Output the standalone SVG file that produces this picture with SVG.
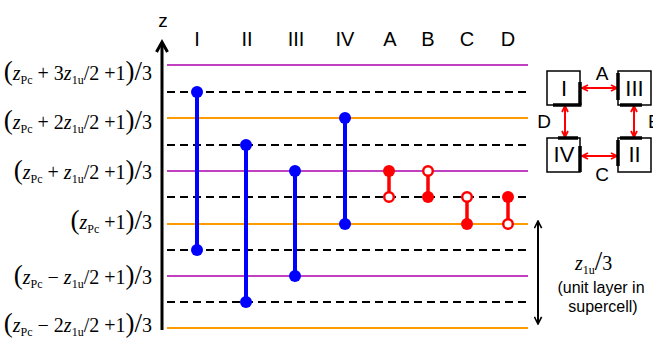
<svg xmlns="http://www.w3.org/2000/svg" width="653" height="343" viewBox="0 0 653 343">
  <style>
    .sans { font-family: "Liberation Sans", Arial, sans-serif; fill: #000; }
    .col { font-size: 20px; text-anchor: middle; }
    .eq { font-family: "Liberation Serif", "Times New Roman", serif; font-size: 20px; fill: #000; text-anchor: end; }
    .eqs { font-family: "Liberation Serif", "Times New Roman", serif; font-size: 20px; fill: #000; text-anchor: start; }
    .v { font-style: italic; }
    .sub { font-size: 12px; }
    .br { font-size: 27px; }
    .purple { stroke: #C040C0; stroke-width: 2; }
    .orange { stroke: #FF9A00; stroke-width: 2; }
    .dash { stroke: #000; stroke-width: 2; stroke-dasharray: 8 5; }
    .blue { stroke: #0000FF; stroke-width: 4; }
    .bdot { fill: #0000FF; }
    .red { stroke: #FF0000; stroke-width: 3.5; }
    .rfill { fill: #FF0000; }
    .ropen { fill: #FFFFFF; stroke: #FF0000; stroke-width: 2.5; }
    .box { fill: #FFFFFF; stroke: #000; stroke-width: 1.5; }
    .edge { stroke: #000; stroke-width: 3.5; }
    .link { stroke: #FF0000; stroke-width: 2; fill: none; }
    .boxlabel { font-size: 22px; text-anchor: middle; }
    .plabel { font-size: 19px; text-anchor: middle; }
  </style>
  <defs>
    <marker id="redHead" viewBox="0 0 8 8" refX="7" refY="4" markerWidth="8" markerHeight="8" markerUnits="userSpaceOnUse" orient="auto-start-reverse">
      <path d="M1,1 L7,4 L1,7" fill="none" stroke="#FF0000" stroke-width="1.8"/>
    </marker>
    <marker id="blackHead" viewBox="0 0 10 10" refX="9" refY="5" markerWidth="9" markerHeight="9" markerUnits="userSpaceOnUse" orient="auto-start-reverse">
      <path d="M1,1 L9,5 L1,9" fill="none" stroke="#000" stroke-width="1.8"/>
    </marker>
  </defs>

  <!-- level lines -->
  <g id="levels">
    <line class="purple" x1="167" y1="65" x2="528" y2="65"/>
    <line class="dash" x1="167" y1="92" x2="528" y2="92"/>
    <line class="orange" x1="167" y1="118" x2="528" y2="118"/>
    <line class="dash" x1="167" y1="145" x2="528" y2="145"/>
    <line class="purple" x1="167" y1="171" x2="528" y2="171"/>
    <line class="dash" x1="167" y1="197" x2="528" y2="197"/>
    <line class="orange" x1="167" y1="224" x2="528" y2="224"/>
    <line class="dash" x1="167" y1="250" x2="528" y2="250"/>
    <line class="purple" x1="167" y1="276" x2="528" y2="276"/>
    <line class="dash" x1="167" y1="302" x2="528" y2="302"/>
    <line class="orange" x1="167" y1="328" x2="528" y2="328"/>
  </g>

  <!-- z axis -->
  <g id="axis">
    <line x1="162" y1="330" x2="162" y2="43" stroke="#000" stroke-width="3"/>
    <path d="M156.5,52 L162,42 L167.5,52" fill="none" stroke="#000" stroke-width="3"/>
    <text class="sans" x="163" y="27" font-size="19" text-anchor="middle">z</text>
  </g>

  <!-- level equations -->
  <g id="level-labels">
    <text class="eq" x="152" y="80"><tspan class="br">(</tspan><tspan class="v">z</tspan><tspan class="sub" dy="4">Pc</tspan><tspan dy="-4"> + 3</tspan><tspan class="v">z</tspan><tspan class="sub" dy="4">1u</tspan><tspan dy="-4">/2 +1</tspan><tspan class="br">)/</tspan>3</text>
    <text class="eq" x="152" y="129"><tspan class="br">(</tspan><tspan class="v">z</tspan><tspan class="sub" dy="4">Pc</tspan><tspan dy="-4"> + 2</tspan><tspan class="v">z</tspan><tspan class="sub" dy="4">1u</tspan><tspan dy="-4">/2 +1</tspan><tspan class="br">)/</tspan>3</text>
    <text class="eq" x="152" y="179"><tspan class="br">(</tspan><tspan class="v">z</tspan><tspan class="sub" dy="4">Pc</tspan><tspan dy="-4"> + </tspan><tspan class="v">z</tspan><tspan class="sub" dy="4">1u</tspan><tspan dy="-4">/2 +1</tspan><tspan class="br">)/</tspan>3</text>
    <text class="eq" x="152" y="229"><tspan class="br">(</tspan><tspan class="v">z</tspan><tspan class="sub" dy="4">Pc</tspan><tspan dy="-4"> +1</tspan><tspan class="br">)/</tspan>3</text>
    <text class="eq" x="152" y="284"><tspan class="br">(</tspan><tspan class="v">z</tspan><tspan class="sub" dy="4">Pc</tspan><tspan dy="-4"> − </tspan><tspan class="v">z</tspan><tspan class="sub" dy="4">1u</tspan><tspan dy="-4">/2 +1</tspan><tspan class="br">)/</tspan>3</text>
    <text class="eq" x="152" y="332"><tspan class="br">(</tspan><tspan class="v">z</tspan><tspan class="sub" dy="4">Pc</tspan><tspan dy="-4"> − 2</tspan><tspan class="v">z</tspan><tspan class="sub" dy="4">1u</tspan><tspan dy="-4">/2 +1</tspan><tspan class="br">)/</tspan>3</text>
  </g>

  <!-- column headings -->
  <g id="columns" class="sans col">
    <text x="197" y="46">I</text>
    <text x="247" y="46">II</text>
    <text x="296" y="46">III</text>
    <text x="345" y="46">IV</text>
    <text x="390" y="46">A</text>
    <text x="428" y="46">B</text>
    <text x="467" y="46">C</text>
    <text x="508" y="46">D</text>
  </g>

  <!-- blue spans -->
  <g id="span-I">
    <line class="blue" x1="197" y1="92" x2="197" y2="250"/>
    <circle class="bdot" cx="197" cy="92" r="6"/>
    <circle class="bdot" cx="197" cy="250" r="6"/>
  </g>
  <g id="span-II">
    <line class="blue" x1="246" y1="145" x2="246" y2="302"/>
    <circle class="bdot" cx="246" cy="145" r="6"/>
    <circle class="bdot" cx="246" cy="302" r="6"/>
  </g>
  <g id="span-III">
    <line class="blue" x1="295" y1="171" x2="295" y2="276"/>
    <circle class="bdot" cx="295" cy="171" r="6"/>
    <circle class="bdot" cx="295" cy="276" r="6"/>
  </g>
  <g id="span-IV">
    <line class="blue" x1="345" y1="118" x2="345" y2="224"/>
    <circle class="bdot" cx="345" cy="118" r="6"/>
    <circle class="bdot" cx="345" cy="224" r="6"/>
  </g>

  <!-- red spans -->
  <g id="span-A">
    <line class="red" x1="389" y1="171" x2="389" y2="197"/>
    <circle class="rfill" cx="389" cy="171" r="6"/>
    <circle class="ropen" cx="389" cy="197" r="4.8"/>
  </g>
  <g id="span-B">
    <line class="red" x1="428" y1="171" x2="428" y2="197"/>
    <circle class="ropen" cx="428" cy="171" r="4.8"/>
    <circle class="rfill" cx="428" cy="197" r="6"/>
  </g>
  <g id="span-C">
    <line class="red" x1="467" y1="197" x2="467" y2="224"/>
    <circle class="ropen" cx="467" cy="197" r="4.8"/>
    <circle class="rfill" cx="467" cy="224" r="6"/>
  </g>
  <g id="span-D">
    <line class="red" x1="508" y1="197" x2="508" y2="224"/>
    <circle class="rfill" cx="508" cy="197" r="6"/>
    <circle class="ropen" cx="508" cy="224" r="4.8"/>
  </g>

  <!-- unit layer span -->
  <g id="unit-layer">
    <line x1="538" y1="221" x2="538" y2="324" stroke="#000" stroke-width="2" marker-start="url(#blackHead)" marker-end="url(#blackHead)"/>
    <text class="eqs" x="575" y="270"><tspan class="v">z</tspan><tspan class="sub" dy="4">1u</tspan><tspan class="br" dy="-4">/</tspan>3</text>
    <text class="sans" x="601" y="293" font-size="16" text-anchor="middle">(unit layer in</text>
    <text class="sans" x="603" y="312" font-size="16" text-anchor="middle">supercell)</text>
  </g>

  <!-- connectors between blocks -->
  <g id="connectors">
    <line class="link" x1="582" y1="88" x2="617" y2="88" marker-start="url(#redHead)" marker-end="url(#redHead)"/>
    <line class="link" x1="582" y1="156" x2="617" y2="156" marker-start="url(#redHead)" marker-end="url(#redHead)"/>
    <line class="link" x1="565" y1="106" x2="565" y2="137" marker-start="url(#redHead)" marker-end="url(#redHead)"/>
    <line class="link" x1="634" y1="106" x2="634" y2="137" marker-start="url(#redHead)" marker-end="url(#redHead)"/>
    <text class="sans plabel" x="602" y="80">A</text>
    <text class="sans plabel" x="648" y="128" text-anchor="start" style="text-anchor:start">B</text>
    <text class="sans plabel" x="602" y="181">C</text>
    <text class="sans plabel" x="544" y="128">D</text>
  </g>

  <!-- blocks -->
  <g id="block-I">
    <rect class="box" x="547" y="71" width="33" height="34"/>
    <line class="edge" x1="580" y1="82" x2="580" y2="105"/>
    <line class="edge" x1="553" y1="105" x2="581.5" y2="105"/>
    <text class="sans boxlabel" x="564" y="96">I</text>
  </g>
  <g id="block-III">
    <rect class="box" x="618" y="71" width="33" height="34"/>
    <line class="edge" x1="618" y1="73" x2="618" y2="100"/>
    <line class="edge" x1="620" y1="105" x2="642" y2="105"/>
    <text class="sans boxlabel" x="634.5" y="96">III</text>
  </g>
  <g id="block-IV">
    <rect class="box" x="547" y="138" width="33" height="34"/>
    <line class="edge" x1="558" y1="138" x2="578" y2="138"/>
    <line class="edge" x1="580" y1="146" x2="580" y2="172"/>
    <text class="sans boxlabel" x="564" y="162">IV</text>
  </g>
  <g id="block-II">
    <rect class="box" x="618" y="138" width="33" height="34"/>
    <line class="edge" x1="620" y1="138" x2="642" y2="138"/>
    <line class="edge" x1="618" y1="140" x2="618" y2="166"/>
    <text class="sans boxlabel" x="634.5" y="162">II</text>
  </g>
</svg>
